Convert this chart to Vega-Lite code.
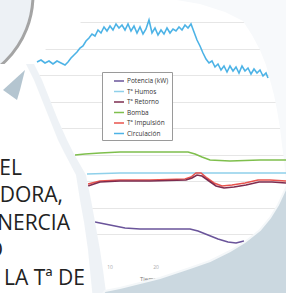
{
  "$schema": "https://vega.github.io/schema/vega-lite/v6.json",
  "width": 286,
  "height": 293,
  "autosize": {"type": "none"},
  "padding": 0,
  "background": "white",
  "config": {"view": {"stroke": null}},
  "datasets": {
    "lines": [
      {"series": "Circulación", "x": 37, "y": 62}, {"series": "Circulación", "x": 41, "y": 60}, {"series": "Circulación", "x": 45, "y": 63}, {"series": "Circulación", "x": 49, "y": 61}, {"series": "Circulación", "x": 53, "y": 64}, {"series": "Circulación", "x": 57, "y": 61}, {"series": "Circulación", "x": 61, "y": 63}, {"series": "Circulación", "x": 65, "y": 65}, {"series": "Circulación", "x": 68, "y": 62}, {"series": "Circulación", "x": 71, "y": 58}, {"series": "Circulación", "x": 74, "y": 55}, {"series": "Circulación", "x": 77, "y": 52}, {"series": "Circulación", "x": 80, "y": 48}, {"series": "Circulación", "x": 83, "y": 46}, {"series": "Circulación", "x": 86, "y": 41}, {"series": "Circulación", "x": 89, "y": 38}, {"series": "Circulación", "x": 92, "y": 34}, {"series": "Circulación", "x": 95, "y": 36}, {"series": "Circulación", "x": 98, "y": 30}, {"series": "Circulación", "x": 101, "y": 33}, {"series": "Circulación", "x": 104, "y": 27}, {"series": "Circulación", "x": 107, "y": 31}, {"series": "Circulación", "x": 110, "y": 26}, {"series": "Circulación", "x": 113, "y": 30}, {"series": "Circulación", "x": 116, "y": 24}, {"series": "Circulación", "x": 119, "y": 28}, {"series": "Circulación", "x": 122, "y": 25}, {"series": "Circulación", "x": 125, "y": 30}, {"series": "Circulación", "x": 128, "y": 24}, {"series": "Circulación", "x": 131, "y": 31}, {"series": "Circulación", "x": 134, "y": 26}, {"series": "Circulación", "x": 137, "y": 33}, {"series": "Circulación", "x": 140, "y": 27}, {"series": "Circulación", "x": 143, "y": 34}, {"series": "Circulación", "x": 146, "y": 29}, {"series": "Circulación", "x": 149, "y": 20}, {"series": "Circulación", "x": 152, "y": 33}, {"series": "Circulación", "x": 155, "y": 28}, {"series": "Circulación", "x": 158, "y": 35}, {"series": "Circulación", "x": 161, "y": 30}, {"series": "Circulación", "x": 164, "y": 34}, {"series": "Circulación", "x": 167, "y": 28}, {"series": "Circulación", "x": 170, "y": 33}, {"series": "Circulación", "x": 173, "y": 29}, {"series": "Circulación", "x": 176, "y": 31}, {"series": "Circulación", "x": 179, "y": 27}, {"series": "Circulación", "x": 182, "y": 30}, {"series": "Circulación", "x": 185, "y": 25}, {"series": "Circulación", "x": 188, "y": 28}, {"series": "Circulación", "x": 191, "y": 24}, {"series": "Circulación", "x": 194, "y": 32}, {"series": "Circulación", "x": 197, "y": 40}, {"series": "Circulación", "x": 200, "y": 46}, {"series": "Circulación", "x": 203, "y": 53}, {"series": "Circulación", "x": 206, "y": 59}, {"series": "Circulación", "x": 209, "y": 63}, {"series": "Circulación", "x": 212, "y": 61}, {"series": "Circulación", "x": 215, "y": 67}, {"series": "Circulación", "x": 218, "y": 64}, {"series": "Circulación", "x": 221, "y": 70}, {"series": "Circulación", "x": 224, "y": 66}, {"series": "Circulación", "x": 227, "y": 72}, {"series": "Circulación", "x": 230, "y": 66}, {"series": "Circulación", "x": 233, "y": 71}, {"series": "Circulación", "x": 236, "y": 67}, {"series": "Circulación", "x": 239, "y": 73}, {"series": "Circulación", "x": 242, "y": 66}, {"series": "Circulación", "x": 245, "y": 71}, {"series": "Circulación", "x": 248, "y": 68}, {"series": "Circulación", "x": 251, "y": 74}, {"series": "Circulación", "x": 254, "y": 69}, {"series": "Circulación", "x": 257, "y": 73}, {"series": "Circulación", "x": 260, "y": 70}, {"series": "Circulación", "x": 263, "y": 76}, {"series": "Circulación", "x": 266, "y": 73}, {"series": "Circulación", "x": 268, "y": 78},
      {"series": "Bomba", "x": 75, "y": 155}, {"series": "Bomba", "x": 85, "y": 154}, {"series": "Bomba", "x": 100, "y": 153}, {"series": "Bomba", "x": 120, "y": 152}, {"series": "Bomba", "x": 150, "y": 152}, {"series": "Bomba", "x": 188, "y": 152}, {"series": "Bomba", "x": 195, "y": 154}, {"series": "Bomba", "x": 202, "y": 157}, {"series": "Bomba", "x": 210, "y": 160}, {"series": "Bomba", "x": 230, "y": 161}, {"series": "Bomba", "x": 260, "y": 160}, {"series": "Bomba", "x": 286, "y": 160},
      {"series": "Tª Humos", "x": 87, "y": 174}, {"series": "Tª Humos", "x": 120, "y": 173}, {"series": "Tª Humos", "x": 160, "y": 173}, {"series": "Tª Humos", "x": 200, "y": 173}, {"series": "Tª Humos", "x": 240, "y": 173}, {"series": "Tª Humos", "x": 286, "y": 173},
      {"series": "Tª Impulsión", "x": 88, "y": 184}, {"series": "Tª Impulsión", "x": 100, "y": 181}, {"series": "Tª Impulsión", "x": 120, "y": 180}, {"series": "Tª Impulsión", "x": 150, "y": 180}, {"series": "Tª Impulsión", "x": 185, "y": 179}, {"series": "Tª Impulsión", "x": 191, "y": 177}, {"series": "Tª Impulsión", "x": 196, "y": 173}, {"series": "Tª Impulsión", "x": 201, "y": 173}, {"series": "Tª Impulsión", "x": 207, "y": 178}, {"series": "Tª Impulsión", "x": 214, "y": 183}, {"series": "Tª Impulsión", "x": 222, "y": 186}, {"series": "Tª Impulsión", "x": 232, "y": 185}, {"series": "Tª Impulsión", "x": 245, "y": 183}, {"series": "Tª Impulsión", "x": 258, "y": 180}, {"series": "Tª Impulsión", "x": 270, "y": 180}, {"series": "Tª Impulsión", "x": 286, "y": 181},
      {"series": "Tª Retorno", "x": 88, "y": 186}, {"series": "Tª Retorno", "x": 100, "y": 182}, {"series": "Tª Retorno", "x": 120, "y": 181}, {"series": "Tª Retorno", "x": 150, "y": 181}, {"series": "Tª Retorno", "x": 186, "y": 180}, {"series": "Tª Retorno", "x": 192, "y": 178}, {"series": "Tª Retorno", "x": 197, "y": 175}, {"series": "Tª Retorno", "x": 202, "y": 176}, {"series": "Tª Retorno", "x": 209, "y": 181}, {"series": "Tª Retorno", "x": 216, "y": 186}, {"series": "Tª Retorno", "x": 224, "y": 188}, {"series": "Tª Retorno", "x": 234, "y": 187}, {"series": "Tª Retorno", "x": 246, "y": 185}, {"series": "Tª Retorno", "x": 259, "y": 182}, {"series": "Tª Retorno", "x": 272, "y": 182}, {"series": "Tª Retorno", "x": 286, "y": 183},
      {"series": "Potencia (kW)", "x": 95, "y": 222}, {"series": "Potencia (kW)", "x": 105, "y": 224}, {"series": "Potencia (kW)", "x": 115, "y": 226}, {"series": "Potencia (kW)", "x": 125, "y": 228}, {"series": "Potencia (kW)", "x": 140, "y": 229}, {"series": "Potencia (kW)", "x": 160, "y": 229}, {"series": "Potencia (kW)", "x": 175, "y": 229}, {"series": "Potencia (kW)", "x": 190, "y": 229}, {"series": "Potencia (kW)", "x": 198, "y": 231}, {"series": "Potencia (kW)", "x": 208, "y": 235}, {"series": "Potencia (kW)", "x": 218, "y": 239}, {"series": "Potencia (kW)", "x": 228, "y": 242}, {"series": "Potencia (kW)", "x": 236, "y": 243}, {"series": "Potencia (kW)", "x": 244, "y": 241}
    ],
    "ring": [{"x": -60, "y": -5}],
    "tlc": [{"x": -5, "y": 66}, {"x": 37, "y": 58}, {"x": 45, "y": 50}, {"x": 55, "y": 40}, {"x": 65, "y": 32}, {"x": 83, "y": 21}, {"x": 103, "y": 11}, {"x": 130, "y": 3}, {"x": 150, "y": -2}],
    "trc": [{"x": 165, "y": -2}, {"x": 200, "y": 4}, {"x": 225, "y": 12}, {"x": 243, "y": 21}, {"x": 252, "y": 35}, {"x": 260, "y": 50}, {"x": 266, "y": 65}, {"x": 270, "y": 80}, {"x": 274, "y": 95}, {"x": 277, "y": 110}, {"x": 280, "y": 128}, {"x": 282, "y": 145}, {"x": 284, "y": 160}, {"x": 286, "y": 180}, {"x": 290, "y": 200}],
    "panel": [{"y": 64, "x": 34, "xi": 26}, {"y": 80, "x": 42, "xi": 34}, {"y": 100, "x": 50, "xi": 42}, {"y": 120, "x": 58, "xi": 50}, {"y": 140, "x": 67, "xi": 58}, {"y": 154, "x": 74, "xi": 65}, {"y": 175, "x": 86, "xi": 76}, {"y": 200, "x": 91, "xi": 80}, {"y": 222, "x": 95, "xi": 84}, {"y": 250, "x": 100, "xi": 88}, {"y": 270, "x": 103, "xi": 90}, {"y": 300, "x": 107, "xi": 93}],
    "curlA": [{"y": 70, "x": 25, "xi": 25}, {"y": 90, "x": 20, "xi": 3}, {"y": 100, "x": 17, "xi": 17}],
    "curlB": [{"x": 98, "y": 300}, {"x": 105, "y": 291}, {"x": 120, "y": 288}, {"x": 140, "y": 283}, {"x": 160, "y": 278}, {"x": 175, "y": 273}, {"x": 190, "y": 268}, {"x": 210, "y": 261}, {"x": 230, "y": 251}, {"x": 245, "y": 242}, {"x": 260, "y": 230}, {"x": 270, "y": 218}, {"x": 278, "y": 205}, {"x": 286, "y": 188}, {"x": 292, "y": 175}],
    "words": [{"x": 22, "y": 175, "label": "EL"}, {"x": 63, "y": 202, "label": "DORA,"}, {"x": 70, "y": 230, "label": "NERCIA"}, {"x": 3, "y": 257, "label": "O"}, {"x": 85, "y": 285, "label": "LA Tª DE"}],
    "ticks": [{"x": 110, "y": 267, "label": "10"}, {"x": 156, "y": 267, "label": "20"}, {"x": 201, "y": 267, "label": "30"}],
    "atitle": [{"x": 140, "y": 279, "label": "Tiempo (min)"}]
  },
  "encoding": {
    "x": {"field": "x", "type": "quantitative", "scale": {"domain": [0, 286], "nice": false, "zero": false}, "axis": null},
    "y": {"field": "y", "type": "quantitative", "scale": {"domain": [0, 293], "nice": false, "zero": false, "reverse": true},
          "axis": {"values": [22, 48.5, 75, 101.5, 128, 154.5, 181, 207.5, 234], "grid": true, "gridColor": "#e6e6e6", "gridWidth": 1, "domain": false, "ticks": false, "labels": false, "title": null}}
  },
  "layer": [
    {"data": {"name": "tlc"}, "mark": {"type": "area", "orient": "vertical", "color": "#ffffff"}, "encoding": {"y2": {"datum": -5}}},
    {"data": {"name": "trc"}, "mark": {"type": "area", "orient": "vertical", "color": "#f7f9fb"}, "encoding": {"y2": {"datum": -5}}},
    {"data": {"name": "ring"}, "mark": {"type": "point", "shape": "circle", "filled": false, "fill": "#edf1f5", "fillOpacity": 1, "stroke": "#a4a4a4", "strokeWidth": 3, "opacity": 1, "size": 34596}},
    {"data": {"name": "lines"}, "mark": {"type": "line", "strokeWidth": 1.6, "interpolate": "linear"},
     "encoding": {"color": {"field": "series", "type": "nominal",
        "scale": {"domain": ["Potencia (kW)", "Tª Humos", "Tª Retorno", "Bomba", "Tª Impulsión", "Circulación"], "range": ["#6a549a", "#8fd0ea", "#7d2c4f", "#7fbf4d", "#e8534d", "#4db3e6"]},
        "legend": {"orient": "none", "legendX": 102, "legendY": 72, "title": null, "symbolType": "stroke", "symbolStrokeWidth": 1.5, "symbolSize": 100, "symbolOffset": 8, "labelFontSize": 6.5, "labelColor": "#333", "labelFont": "Open Sans", "labelOffset": 2, "padding": 3, "rowPadding": 0.5, "strokeColor": "#9a9a9a", "fillColor": "#ffffff"}}}},
    {"data": {"name": "ticks"}, "mark": {"type": "text", "fontSize": 5, "color": "#aaaaaa", "font": "Open Sans", "align": "center"}, "encoding": {"text": {"field": "label"}}},
    {"data": {"name": "atitle"}, "mark": {"type": "text", "fontSize": 6, "color": "#7a7a7a", "font": "Open Sans", "align": "left"}, "encoding": {"text": {"field": "label"}}},
    {"data": {"name": "panel"}, "mark": {"type": "area", "orient": "horizontal", "color": "#ffffff"}, "encoding": {"x2": {"datum": -5}}},
    {"data": {"name": "panel"}, "mark": {"type": "area", "orient": "horizontal", "color": "#d9e3ea", "opacity": 0.45}, "encoding": {"x2": {"field": "xi"}}},
    {"data": {"name": "curlA"}, "mark": {"type": "area", "orient": "horizontal", "color": "#b4c5d0"}, "encoding": {"x2": {"field": "xi"}}},
    {"data": {"name": "curlB"}, "mark": {"type": "area", "orient": "vertical", "color": "#cbd8e0", "stroke": "#f4f7f9", "strokeWidth": 2}, "encoding": {"y2": {"datum": 300}}},
    {"data": {"name": "words"}, "mark": {"type": "text", "fontSize": 21, "color": "#222222", "font": "Open Sans", "align": "right", "baseline": "alphabetic"}, "encoding": {"text": {"field": "label"}}}
  ]
}
